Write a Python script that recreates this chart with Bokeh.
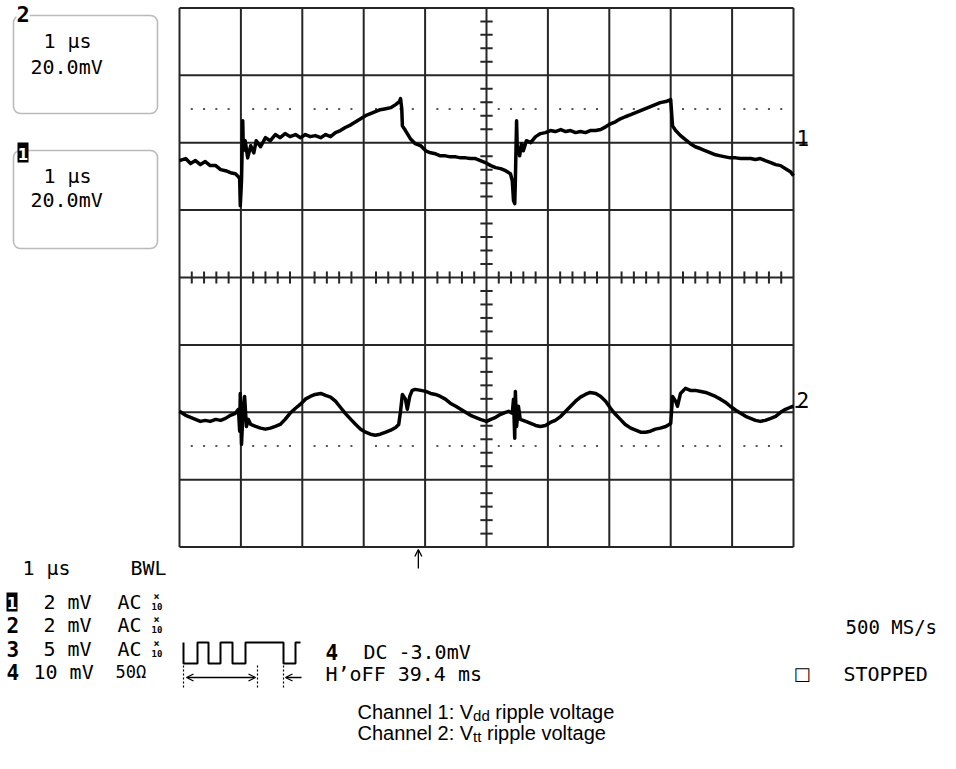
from bokeh.plotting import figure
from bokeh.models import Range1d, Label, BoxAnnotation, Arrow, OpenHead
from bokeh.embed import file_html
from bokeh.resources import INLINE

# ---------------- data (read from the screen) ----------------
# time in microseconds (1 us / div), voltage in mV (20 mV / div)
CH1_T = [0.00, 0.10, 0.18, 0.26, 0.34, 0.42, 0.50, 0.59, 0.67, 0.75,
         0.83, 0.91, 0.96, 0.98, 0.99, 1.01, 1.03, 1.04, 1.07, 1.11,
         1.16, 1.21, 1.25, 1.32, 1.40, 1.48, 1.56, 1.64, 1.72, 1.80,
         1.89, 1.97, 2.05, 2.13, 2.21, 2.30, 2.38, 2.46, 2.54, 2.62,
         2.70, 2.79, 2.87, 2.95, 3.03, 3.11, 3.19, 3.27, 3.36, 3.44,
         3.52, 3.58, 3.60, 3.62, 3.63, 3.68, 3.76, 3.84, 3.93, 4.01,
         4.09, 4.17, 4.25, 4.33, 4.41, 4.50, 4.58, 4.66, 4.74, 4.82,
         4.90, 4.98, 5.07, 5.15, 5.23, 5.31, 5.39, 5.42, 5.44, 5.46,
         5.47, 5.49, 5.50, 5.54, 5.57, 5.60, 5.65, 5.72, 5.80, 5.88,
         5.96, 6.04, 6.12, 6.21, 6.29, 6.37, 6.45, 6.53, 6.61, 6.69,
         6.78, 6.86, 6.94, 7.02, 7.10, 7.18, 7.26, 7.35, 7.43, 7.51,
         7.59, 7.67, 7.75, 7.83, 7.92, 8.00, 8.01, 8.03, 8.08, 8.16,
         8.24, 8.32, 8.40, 8.49, 8.57, 8.65, 8.73, 8.81, 8.89, 8.97,
         9.06, 9.14, 9.22, 9.30, 9.38, 9.46, 9.54, 9.63, 9.71, 9.79,
         9.87, 9.95, 10.0]
CH1_MV = [-5.3, -4.7, -6.2, -5.3, -6.5, -5.6, -6.8, -6.8, -8.0, -8.3,
          -8.9, -9.2, -10.1, -10.7, -18.7, -11.3, 6.5, -2.4, 0.6, -4.5,
          -0.9, -3.0, 0.6, -1.2, 1.5, 0.6, 2.4, 1.5, 2.7, 1.8,
          2.4, 1.5, 2.4, 1.8, 2.1, 1.5, 2.4, 1.8, 3.0, 3.6,
          4.5, 5.3, 6.2, 7.1, 8.0, 8.6, 9.2, 9.8, 10.1, 10.4,
          11.3, 12.2, 13.1, 10.1, 5.0, 3.6, 1.2, -0.3, -0.9, -2.4,
          -3.0, -3.3, -3.9, -3.9, -4.2, -4.2, -4.5, -4.5, -4.7, -4.7,
          -5.3, -5.9, -6.8, -7.4, -7.7, -8.3, -9.2, -11.3, -17.2, -18.1,
          -11.3, 6.5, -0.9, -3.9, -0.3, -2.4, 0.6, 0.0, 1.8, 2.7,
          3.0, 3.6, 3.3, 3.9, 3.3, 3.6, 3.0, 3.3, 3.0, 3.6,
          3.6, 3.9, 4.7, 5.6, 6.2, 7.1, 7.7, 8.3, 8.9, 9.5,
          10.1, 10.7, 11.3, 11.9, 12.2, 12.8, 10.1, 5.0, 3.6, 2.1,
          0.9, -0.3, -1.2, -1.8, -2.4, -3.0, -3.6, -3.9, -4.2, -4.5,
          -4.5, -4.7, -4.7, -4.7, -5.0, -4.7, -5.3, -5.9, -6.5, -6.8,
          -7.7, -8.6, -9.8]

CH2_T = [0.00, 0.10, 0.18, 0.26, 0.34, 0.42, 0.50, 0.59, 0.67, 0.75,
         0.83, 0.91, 0.96, 0.98, 0.99, 1.01, 1.03, 1.06, 1.09, 1.12,
         1.16, 1.24, 1.32, 1.40, 1.48, 1.56, 1.64, 1.72, 1.80, 1.89,
         1.97, 2.05, 2.13, 2.21, 2.30, 2.38, 2.46, 2.54, 2.62, 2.70,
         2.79, 2.87, 2.95, 3.03, 3.11, 3.19, 3.27, 3.36, 3.44, 3.52,
         3.57, 3.60, 3.63, 3.68, 3.71, 3.75, 3.79, 3.84, 3.93, 4.01,
         4.09, 4.17, 4.25, 4.33, 4.41, 4.50, 4.58, 4.66, 4.74, 4.82,
         4.90, 5.00, 5.07, 5.15, 5.23, 5.31, 5.36, 5.42, 5.44, 5.46,
         5.47, 5.49, 5.52, 5.55, 5.64, 5.72, 5.80, 5.88, 5.96, 6.04,
         6.12, 6.21, 6.29, 6.37, 6.45, 6.53, 6.61, 6.69, 6.78, 6.86,
         6.94, 7.02, 7.10, 7.18, 7.26, 7.35, 7.43, 7.51, 7.59, 7.67,
         7.75, 7.83, 7.92, 8.00, 8.03, 8.08, 8.11, 8.16, 8.24, 8.32,
         8.40, 8.49, 8.57, 8.65, 8.73, 8.81, 8.89, 8.97, 9.06, 9.14,
         9.22, 9.30, 9.38, 9.46, 9.54, 9.63, 9.71, 9.79, 9.87, 9.95,
         10.0]
CH2_MV = [0.3, -0.9, -1.5, -2.1, -2.7, -2.4, -2.7, -2.1, -2.4, -1.8,
          -0.9, -0.3, 0.9, -5.6, 5.6, -9.5, -1.2, 4.7, -4.2, -2.1,
          -3.6, -4.2, -4.7, -5.0, -4.7, -4.2, -3.6, -2.1, -0.3, 1.2,
          2.4, 3.9, 4.7, 5.3, 5.6, 5.0, 4.5, 3.3, 1.5, -0.3,
          -2.1, -3.6, -5.0, -5.9, -6.5, -6.8, -6.5, -5.9, -5.3, -4.5,
          -3.6, 0.3, 5.3, 3.9, 0.9, 4.7, 6.5, 6.8, 6.5, 6.2,
          5.6, 5.3, 4.7, 3.9, 2.7, 1.8, 0.9, 0.0, -0.9, -1.5,
          -2.1, -2.7, -2.1, -1.5, -0.6, 0.0, 0.3, -0.3, 3.9, -7.7,
          6.2, -4.2, 1.8, -2.1, -2.7, -3.3, -3.9, -4.2, -3.9, -3.0,
          -2.4, -1.2, 0.3, 1.8, 3.3, 4.5, 5.3, 5.9, 5.6, 4.7,
          3.3, 1.2, -0.6, -2.1, -3.6, -4.7, -5.3, -5.9, -5.9, -5.6,
          -5.0, -4.7, -4.2, -3.3, 4.7, 3.3, 1.8, 5.6, 7.1, 6.5,
          6.5, 6.2, 5.9, 5.3, 4.7, 3.9, 3.0, 1.8, 0.6, -0.3,
          -1.2, -1.8, -2.4, -2.7, -2.4, -1.8, -1.2, 0.0, 0.9, 1.5,
          1.8]

MV_PER_DIV = 20.0
CH1_OFFSET_DIV = 2.0
CH2_OFFSET_DIV = -2.0
CH1_MARK_DIV = 2.0
CH2_MARK_DIV = -1.92
N_XDIV = 10
N_YDIV = 8
TRIGGER_T = 3.89

# ---------------- layout ----------------
W, H = 940, 753
GRID_L = 179.0        # px of t = 0
GRID_CY = 277.0       # px of centre line
PX_PER_US = 61.4
PX_PER_DIV = 67.4
GRID_COLOR = "#262626"
MONO = "DejaVu Sans Mono"
SANS = "Liberation Sans"


def X(px):
    return (px - GRID_L) / PX_PER_US


def Y(py):
    return (GRID_CY - py) / PX_PER_DIV


p = figure(width=W, height=H,
           x_range=Range1d(X(0), X(W)),
           y_range=Range1d(Y(H), Y(0)),
           x_axis_type=None, y_axis_type=None,
           output_backend="svg", toolbar_location=None, min_border=0)
p.outline_line_color = None
p.background_fill_color = "white"
p.border_fill_color = "white"

half_y = N_YDIV / 2
# graticule
p.multi_line([[i, i] for i in range(N_XDIV + 1)],
             [[-half_y, half_y] for _ in range(N_XDIV + 1)],
             line_color=GRID_COLOR, line_width=2)
p.multi_line([[0, N_XDIV] for _ in range(N_YDIV + 1)],
             [[j - half_y, j - half_y] for j in range(N_YDIV + 1)],
             line_color=GRID_COLOR, line_width=2)

# centre-axis minor ticks
tx = [k / 5 for k in range(1, N_XDIV * 5) if k % 5]
p.segment(x0=tx, y0=[-0.09] * len(tx), x1=tx, y1=[0.09] * len(tx),
          line_color=GRID_COLOR, line_width=2)
ty = [k / 5 for k in range(-int(half_y * 5) + 1, int(half_y * 5)) if k % 5]
cx = N_XDIV / 2
p.segment(x0=[cx - 0.1] * len(ty), y0=ty, x1=[cx + 0.1] * len(ty), y1=ty,
          line_color=GRID_COLOR, line_width=2)

# dotted reference rows
dx = [i + j / 5 for i in range(N_XDIV) for j in range(1, 5)]
for yy in (2.5, -2.5):
    p.scatter(dx, [yy] * len(dx), marker="square", size=2,
              fill_color="#555555", line_color=None)

# traces
p.line(CH1_T, [v / MV_PER_DIV + CH1_OFFSET_DIV for v in CH1_MV],
       line_color="black", line_width=3.5, line_join="round")
p.line(CH2_T, [v / MV_PER_DIV + CH2_OFFSET_DIV for v in CH2_MV],
       line_color="black", line_width=3.5, line_join="round")

# channel markers at right
for lvl, txt, base_px in ((CH1_MARK_DIV, "1", 137), (CH2_MARK_DIV, "2", 399)):
    p.segment(x0=[X(795)], y0=[lvl], x1=[X(807)], y1=[lvl],
              line_color="black", line_width=2)
    p.add_layout(Label(x=X(796), y=Y(base_px), text=txt, text_font=MONO,
                       text_font_size="21px", text_baseline="alphabetic",
                       text_align="left", text_color="black"))

# trigger arrow
p.add_layout(Arrow(x_start=TRIGGER_T, y_start=Y(568), x_end=TRIGGER_T, y_end=Y(549),
                   line_width=1.3, end=OpenHead(size=7, line_width=1.3)))


def lab(px, py, text, size=20, font=MONO, bold=False, color="black",
        bg=None, align="left"):
    kw = dict(x=X(px), y=Y(py), text=text, text_font=font,
              text_font_size=f"{size}px", text_baseline="middle",
              text_align=align, text_color=color,
              text_font_style="bold" if bold else "normal")
    if bg is not None:
        kw.update(background_fill_color=bg, padding=0)
    p.add_layout(Label(**kw))


def inv_digit(x0, x1, y0, y1, text, size):
    p.quad(left=[X(x0)], right=[X(x1)], top=[Y(y0)], bottom=[Y(y1)],
           fill_color="black", line_color=None)
    p.add_layout(Label(x=X((x0 + x1) / 2), y=Y((y0 + y1) / 2 + 1), text=text,
                       text_font="DejaVu Sans", text_font_size=f"{size}px",
                       text_font_style="bold", text_color="white",
                       text_align="center", text_baseline="middle"))


# zoom trace boxes
for top, bot in ((15, 113), (150, 248)):
    p.add_layout(BoxAnnotation(left=X(13), right=X(157), top=Y(top), bottom=Y(bot),
                               fill_color=None, line_color="#1a1a1a",
                               line_width=1.6, border_radius=7))
lab(16, 13, "2", size=22, bold=True, bg="white")
lab(43, 40, "1 μs")
lab(30, 66, "20.0mV")
inv_digit(17, 28, 142, 162, "1", 15)
lab(43, 175, "1 μs")
lab(30, 199, "20.0mV")

# bottom-left settings
lab(22, 567, "1 μs")
lab(130, 567, "BWL")
rows_y = [601, 624, 648, 671]
inv_digit(6, 17, 592, 611, "1", 15)
lab(6, rows_y[1], "2", size=21, bold=True)
lab(6, rows_y[2], "3", size=21, bold=True)
lab(6, rows_y[3], "4", size=21, bold=True)
lab(43, rows_y[0], "2 mV")
lab(43, rows_y[1], "2 mV")
lab(43, rows_y[2], "5 mV")
lab(33, rows_y[3], "10 mV")
for ry in rows_y[:3]:
    lab(117, ry, "AC")
    lab(153, ry - 5, "×", size=10, bold=True)
    lab(151, ry + 5, "10", size=9, bold=True)
lab(115, rows_y[3], "50Ω", size=17)

# trigger pattern icon
PULSE_PX = [(183, 642), (183, 663), (197, 663), (197, 642), (208, 642), (208, 663),
            (220, 663), (220, 642), (232, 642), (232, 663), (245, 663), (245, 642),
            (283, 642), (283, 663), (295, 663), (295, 642), (300, 642)]
p.line([X(a) for a, _ in PULSE_PX], [Y(b) for _, b in PULSE_PX],
       line_color="black", line_width=2)
for tk in (183, 257, 283):
    p.segment(x0=[X(tk)], y0=[Y(665)], x1=[X(tk)], y1=[Y(688)],
              line_color="black", line_width=1.2, line_dash="2 2")
p.add_layout(Arrow(x_start=X(186), y_start=Y(677), x_end=X(255), y_end=Y(677),
                   line_width=1.3, start=OpenHead(size=7, line_width=1.3),
                   end=OpenHead(size=7, line_width=1.3)))
p.add_layout(Arrow(x_start=X(301), y_start=Y(677), x_end=X(285), y_end=Y(677),
                   line_width=1.3, end=OpenHead(size=7, line_width=1.3)))

lab(325, 651, "4", size=21, bold=True)
lab(363, 651, "DC")
lab(398, 651, "-3.0mV")
lab(325, 673, "H’oFF 39.4 ms")

# right side status
lab(845, 626, "500 MS/s", size=19)
lab(793, 673, "□", size=18, font="DejaVu Sans")
lab(843, 673, "STOPPED")

# caption with subscripts (Liberation Sans = Arial metrics)
ARIAL_W = {"C": .722, "h": .556, "a": .556, "n": .556, "e": .556, "l": .222,
           " ": .278, "1": .556, "2": .556, ":": .278, "V": .667, "d": .556,
           "t": .278, "r": .333, "i": .222, "p": .556, "v": .5, "o": .556, "g": .556}


def tw(s, size):
    return sum(ARIAL_W.get(c, .556) for c in s) * size


CAP_SIZE = 20
SUB_SIZE = 15
CAP_X = 357
for base_py, head, sub in ((711, "Channel 1: V", "dd"), (732, "Channel 2: V", "tt")):
    x = CAP_X
    for txt, size, dy in ((head, CAP_SIZE, 0), (sub, SUB_SIZE, 4), ("ripple voltage", CAP_SIZE, 0)):
        p.add_layout(Label(x=X(x), y=Y(base_py + dy), text=txt, text_font=SANS,
                           text_font_size=f"{size}px", text_baseline="alphabetic",
                           text_align="left", text_color="black"))
        x += tw(txt, size)
        if txt == sub:
            x += tw(" ", CAP_SIZE)

open("out.html", "w").write(file_html(p, INLINE))
